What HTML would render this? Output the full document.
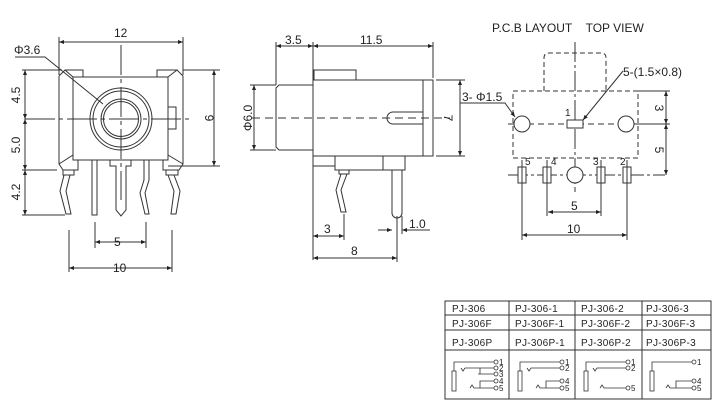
<!DOCTYPE html>
<html><head><meta charset="utf-8"><style>
html,body{margin:0;padding:0;background:#fff;}
svg{display:block;font-family:"Liberation Sans",sans-serif;}
text{fill:#222;}
</style></head><body>
<svg width="714" height="410" viewBox="0 0 714 410" xmlns="http://www.w3.org/2000/svg">
<defs>
<marker id="a" viewBox="0 0 10 10" refX="10" refY="5" markerWidth="7" markerHeight="5" orient="auto-start-reverse" markerUnits="userSpaceOnUse"><path d="M0,1 L10,5 L0,9 z" fill="#222"/></marker>
</defs>
<g stroke="#333" stroke-width="1" fill="none">
<!-- ===== LEFT VIEW ===== -->
<line x1="59" y1="42" x2="183" y2="42" marker-start="url(#a)" marker-end="url(#a)"/>
<line x1="59" y1="37" x2="59" y2="75"/><line x1="183" y1="37" x2="183" y2="75"/>
<path d="M15,57 H45 L103,104"/>
<!-- body -->
<rect x="73" y="77" width="95" height="83"/>
<path d="M59,76 L65,70 H83 V77"/>
<path d="M59,76 V164 L63,170 H78 V160"/>
<path d="M59,164 L73,155"/><path d="M65,70 L73,77"/>
<path d="M183,76 L177,70 H157 V77"/>
<path d="M183,76 V164 L179,170 H163 V160"/>
<path d="M183,164 L168,155"/><path d="M177,70 L168,77"/>
<path d="M168,107 H176 V129 H168"/>
<circle cx="121" cy="119" r="31"/><circle cx="121" cy="119" r="28"/>
<circle cx="121" cy="119" r="20"/><circle cx="121" cy="119" r="17.5"/>
<line x1="25" y1="119" x2="193" y2="119" stroke-dasharray="30,4,4,4"/>
<line x1="121" y1="45" x2="121" y2="200" stroke-dasharray="30,4,4,4"/>
<!-- left dims -->
<line x1="25" y1="70" x2="25" y2="119" marker-start="url(#a)" marker-end="url(#a)"/>
<line x1="25" y1="119" x2="25" y2="170" marker-start="url(#a)" marker-end="url(#a)"/>
<line x1="25" y1="170" x2="25" y2="215" marker-start="url(#a)" marker-end="url(#a)"/>
<line x1="22" y1="70" x2="62" y2="70"/><line x1="22" y1="170" x2="57" y2="170"/><line x1="22" y1="215" x2="65" y2="215"/>
<line x1="214" y1="70" x2="214" y2="166" marker-start="url(#a)" marker-end="url(#a)"/>
<line x1="183" y1="70" x2="220" y2="70"/><line x1="168" y1="166" x2="220" y2="166"/>
<!-- pins -->
<rect x="63" y="170" width="11" height="5"/>
<path d="M64,175 L60,191 L66,214 H71 L66,191 L70,175"/>
<rect x="166" y="170" width="12" height="5"/>
<path d="M168,175 L174,191 L171,214 H176 L180,191 L174,175"/>
<path d="M92,160 V215 H97 V160"/>
<path d="M110,160 V166 H116 V210 L121,216 L126,210 V166 H131 V160"/>
<path d="M144,160 V180 L140,193 L145,214 H149 L145,193 L149,180 V160"/>
<!-- bottom dims -->
<line x1="95" y1="222" x2="95" y2="248"/><line x1="146" y1="222" x2="146" y2="248"/>
<line x1="95" y1="242" x2="146" y2="242" marker-start="url(#a)" marker-end="url(#a)"/>
<line x1="69" y1="230" x2="69" y2="272"/><line x1="172" y1="230" x2="172" y2="272"/>
<line x1="69" y1="268" x2="172" y2="268" marker-start="url(#a)" marker-end="url(#a)"/>

<!-- ===== MIDDLE VIEW ===== -->
<line x1="276" y1="46" x2="313" y2="46" marker-start="url(#a)" marker-end="url(#a)"/>
<line x1="313" y1="46" x2="433" y2="46" marker-start="url(#a)" marker-end="url(#a)"/>
<line x1="276" y1="42" x2="276" y2="85"/><line x1="313" y1="42" x2="313" y2="260"/><line x1="433" y1="42" x2="433" y2="78"/>
<rect x="314" y="70" width="42" height="10"/>
<rect x="313" y="80" width="120" height="76"/>
<line x1="423" y1="80" x2="423" y2="156"/>
<path d="M423,112 H393 A6,6 0 0 0 393,124 H423"/>
<path d="M313,85 H279 L276,88 V147 L279,150 H313"/>
<line x1="252" y1="118" x2="450" y2="118" stroke-dasharray="8,5"/>
<line x1="254" y1="85" x2="254" y2="150" marker-start="url(#a)" marker-end="url(#a)"/>
<line x1="250" y1="85" x2="276" y2="85"/><line x1="250" y1="150" x2="276" y2="150"/>
<line x1="460" y1="80" x2="460" y2="156" marker-start="url(#a)" marker-end="url(#a)"/>
<line x1="436" y1="80" x2="465" y2="80"/><line x1="436" y1="156" x2="465" y2="156"/>
<path d="M313,156 V166 H335 V170 H385"/><line x1="335" y1="156" x2="335" y2="166"/>
<rect x="383" y="156" width="22" height="14"/>
<path d="M392,170 V213 M402,170 V213"/><path d="M392,213 A5,5 0 0 0 402,213"/>
<rect x="339" y="170" width="10" height="4"/>
<path d="M341,174 L336,190 L341,212 H346 L341,190 L347,174"/>
<line x1="344" y1="214" x2="344" y2="240"/>
<line x1="313" y1="236" x2="344" y2="236" marker-start="url(#a)" marker-end="url(#a)"/>
<line x1="397" y1="216" x2="397" y2="262"/>
<line x1="313" y1="258" x2="397" y2="258" marker-start="url(#a)" marker-end="url(#a)"/>
<line x1="378" y1="230" x2="392" y2="230" marker-end="url(#a)"/>
<line x1="416" y1="230" x2="402" y2="230" marker-end="url(#a)"/>
<line x1="416" y1="230" x2="430" y2="230"/>
<line x1="402" y1="216" x2="402" y2="234"/>

<!-- ===== RIGHT VIEW ===== -->
<path d="M544,91 V58 Q544,53 549,53 H601 Q606,53 606,58 V91" stroke-dasharray="5,3"/>
<rect x="513" y="91" width="125" height="67" stroke-dasharray="5,3"/>
<line x1="575" y1="42" x2="575" y2="192" stroke-dasharray="20,3,3,3"/>
<line x1="508" y1="124" x2="640" y2="124" stroke-dasharray="6,4"/>
<line x1="508" y1="175" x2="665" y2="175" stroke-dasharray="20,3,3,3"/>
<circle cx="522" cy="124" r="8" fill="#fff"/><circle cx="626" cy="124" r="8" fill="#fff"/>
<circle cx="575" cy="175" r="8" fill="#fff"/>
<rect x="567" y="120" width="16" height="8" fill="#fff"/>
<rect x="518" y="167" width="8" height="16" fill="#fff"/><rect x="543" y="167" width="8" height="16" fill="#fff"/>
<rect x="597" y="167" width="8" height="16" fill="#fff"/><rect x="623" y="167" width="8" height="16" fill="#fff"/>
<line x1="522" y1="160" x2="522" y2="240"/><line x1="547" y1="160" x2="547" y2="216"/>
<line x1="601" y1="160" x2="601" y2="216"/><line x1="627" y1="160" x2="627" y2="240"/>
<line x1="548" y1="212" x2="601" y2="212" marker-start="url(#a)" marker-end="url(#a)"/>
<line x1="522" y1="235" x2="627" y2="235" marker-start="url(#a)" marker-end="url(#a)"/>
<line x1="666" y1="91" x2="666" y2="124" marker-start="url(#a)" marker-end="url(#a)"/>
<line x1="666" y1="124" x2="666" y2="175" marker-start="url(#a)" marker-end="url(#a)"/>
<line x1="638" y1="91" x2="670" y2="91"/><line x1="634" y1="124" x2="670" y2="124"/>
<line x1="623" y1="71" x2="583" y2="120" marker-end="url(#a)"/>
<path d="M460,103 H505 L515,117" marker-end="url(#a)"/>

<!-- ===== TABLE ===== -->
<rect x="445" y="301" width="266" height="98"/>
<line x1="445" y1="315" x2="711" y2="315"/><line x1="445" y1="330" x2="711" y2="330"/><line x1="445" y1="350" x2="711" y2="350"/>
<line x1="509" y1="301" x2="509" y2="399"/><line x1="575" y1="301" x2="575" y2="399"/><line x1="642" y1="301" x2="642" y2="399"/>
</g>
<g stroke="#333" stroke-width="0.8" fill="none">
<!-- cell 1 -->
<rect x="452" y="371" width="4" height="20"/><path d="M454,371 V362 H494"/><circle cx="496" cy="362" r="2"/>
<path d="M461,368 L463,371 L465,368 M465,368 H494"/><circle cx="496" cy="368" r="2"/>
<path d="M480,368 V374 M478,374 H494"/><circle cx="496" cy="374" r="2"/>
<path d="M470,388 L472,385 L474,388 H480 V381 H494 M480,388 H494"/><circle cx="496" cy="381" r="2"/><circle cx="496" cy="388" r="2"/>
<!-- cell 2 -->
<rect x="518" y="371" width="4" height="20"/><path d="M520,371 V362 H560"/><circle cx="562" cy="362" r="2"/>
<path d="M527,368 L529,371 L531,368 H560"/><circle cx="562" cy="368" r="2"/>
<path d="M536,388 L538,385 L540,388 H546 V381 H560 M546,388 H560"/><circle cx="562" cy="381" r="2"/><circle cx="562" cy="388" r="2"/>
<!-- cell 3 -->
<rect x="584" y="371" width="4" height="20"/><path d="M586,371 V362 H626"/><circle cx="628" cy="362" r="2"/>
<path d="M593,368 L595,371 L597,368 H626"/><circle cx="628" cy="368" r="2"/>
<path d="M600,388 L602,385 L604,388 H626"/><circle cx="628" cy="388" r="2"/>
<!-- cell 4 -->
<rect x="650" y="371" width="4" height="20"/><path d="M652,371 V362 H692"/><circle cx="694" cy="362" r="2"/>
<path d="M666,388 L668,385 L670,388 H676 V381 H692 M676,388 H692"/><circle cx="694" cy="381" r="2"/><circle cx="694" cy="388" r="2"/>
</g>
<g font-size="12">
<text x="114" y="37">12</text>
<text x="14" y="54">Φ3.6</text>
<text x="114" y="246">5</text>
<text x="113" y="272">10</text>
<text transform="translate(20,95) rotate(-90)" text-anchor="middle">4.5</text>
<text transform="translate(20,145) rotate(-90)" text-anchor="middle">5.0</text>
<text transform="translate(20,192) rotate(-90)" text-anchor="middle">4.2</text>
<text transform="translate(205,118) rotate(90)" text-anchor="middle">9</text>
<text x="285" y="44">3.5</text>
<text x="360" y="44">11.5</text>
<text transform="translate(252,118) rotate(-90)" text-anchor="middle">Φ6.0</text>
<text transform="translate(444,118) rotate(90)" text-anchor="middle">7</text>
<text x="324" y="233">3</text>
<text x="409" y="228">1.0</text>
<text x="351" y="255">8</text>
<text x="492" y="32">P.C.B LAYOUT&#160;&#160;&#160;&#160;TOP VIEW</text>
<text x="623" y="76">5-(1.5×0.8)</text>
<text x="462" y="101">3- Φ1.5</text>
<text transform="translate(655,108) rotate(90)" text-anchor="middle">3</text>
<text transform="translate(655,150) rotate(90)" text-anchor="middle">5</text>
<text x="571" y="210">5</text>
<text x="567" y="233">10</text>
</g>
<g font-size="10">
<text x="565" y="116">1</text><text x="525" y="165">5</text><text x="551" y="165">4</text>
<text x="593" y="165">3</text><text x="620" y="165">2</text>
</g>
<g font-size="10" letter-spacing="0.3">
<text x="452" y="312">PJ-306</text><text x="515" y="312">PJ-306-1</text><text x="581" y="312">PJ-306-2</text><text x="646" y="312">PJ-306-3</text>
<text x="452" y="327">PJ-306F</text><text x="515" y="327">PJ-306F-1</text><text x="581" y="327">PJ-306F-2</text><text x="646" y="327">PJ-306F-3</text>
<text x="452" y="346">PJ-306P</text><text x="515" y="346">PJ-306P-1</text><text x="581" y="346">PJ-306P-2</text><text x="646" y="346">PJ-306P-3</text>
</g>
<g font-size="8">
<text x="499" y="365">1</text><text x="499" y="371">2</text><text x="499" y="377">3</text><text x="499" y="384">4</text><text x="499" y="391">5</text>
<text x="565" y="365">1</text><text x="565" y="371">2</text><text x="565" y="384">4</text><text x="565" y="391">5</text>
<text x="631" y="365">1</text><text x="631" y="371">2</text><text x="631" y="391">5</text>
<text x="697" y="365">1</text><text x="697" y="384">4</text><text x="697" y="391">5</text>
</g>
</svg>
</body></html>
